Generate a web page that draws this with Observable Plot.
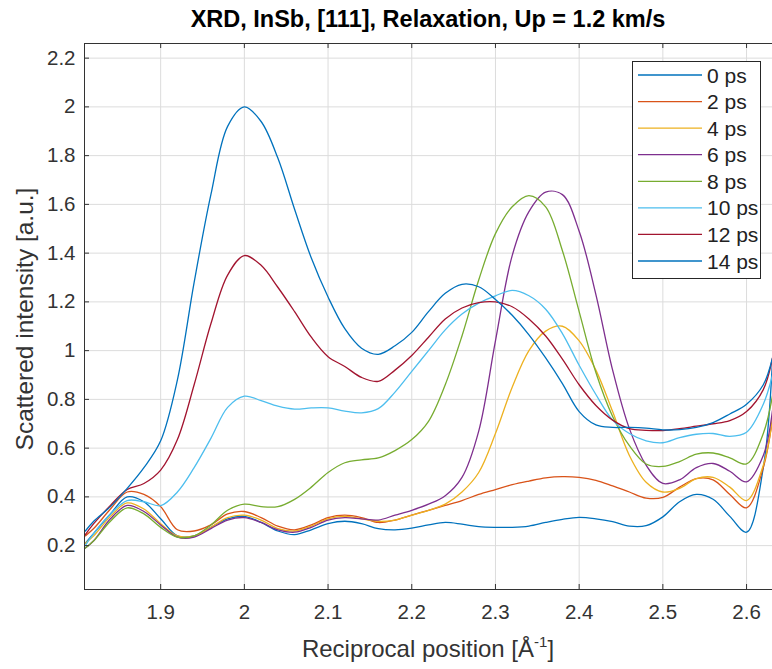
<!DOCTYPE html>
<html><head><meta charset="utf-8">
<script src="https://cdn.jsdelivr.net/npm/d3@7"></script>
<script src="https://cdn.jsdelivr.net/npm/@observablehq/plot@0.6"></script>
<style>
html,body{margin:0;padding:0;background:#fff;}
#chart{width:772px;height:669px;overflow:hidden;}
</style></head>
<body><div id="chart"></div>
<script>
// Reciprocal position (Å^-1)
const xPos = [1.81,1.82,1.84,1.86,1.88,1.90,1.92,1.94,1.96,1.98,2.00,2.02,2.04,2.06,2.08,2.10,2.12,2.14,2.16,2.18,2.20,2.22,2.24,2.26,2.28,2.30,2.32,2.34,2.36,2.38,2.40,2.42,2.44,2.46,2.48,2.50,2.52,2.54,2.56,2.58,2.60,2.62,2.631];
// Scattered intensity per delay
const int0ps  = [0.21,0.25,0.33,0.40,0.38,0.31,0.24,0.24,0.275,0.31,0.32,0.295,0.26,0.245,0.265,0.29,0.30,0.29,0.27,0.265,0.272,0.285,0.295,0.288,0.278,0.275,0.275,0.28,0.295,0.308,0.316,0.31,0.298,0.28,0.282,0.318,0.38,0.41,0.39,0.32,0.255,0.52,0.96];
const int2ps  = [0.24,0.27,0.35,0.42,0.41,0.36,0.265,0.26,0.285,0.33,0.34,0.315,0.28,0.265,0.285,0.315,0.325,0.315,0.295,0.305,0.325,0.345,0.365,0.385,0.41,0.43,0.45,0.465,0.478,0.483,0.48,0.468,0.445,0.42,0.395,0.398,0.44,0.475,0.47,0.41,0.355,0.52,0.72];
const int4ps  = [0.21,0.24,0.32,0.375,0.35,0.29,0.24,0.24,0.275,0.315,0.325,0.305,0.27,0.26,0.28,0.31,0.32,0.31,0.30,0.305,0.325,0.345,0.37,0.42,0.50,0.66,0.85,1.0,1.08,1.10,1.04,0.92,0.75,0.57,0.46,0.42,0.435,0.475,0.48,0.44,0.385,0.53,0.72];
const int6ps  = [0.19,0.22,0.31,0.365,0.34,0.285,0.235,0.235,0.27,0.305,0.315,0.295,0.265,0.255,0.275,0.305,0.315,0.31,0.305,0.325,0.345,0.37,0.405,0.48,0.67,1.04,1.39,1.57,1.65,1.64,1.49,1.23,0.92,0.68,0.53,0.455,0.47,0.52,0.537,0.505,0.462,0.57,0.755];
const int8ps  = [0.19,0.22,0.30,0.355,0.33,0.275,0.235,0.24,0.285,0.345,0.37,0.36,0.36,0.39,0.44,0.50,0.54,0.552,0.56,0.59,0.635,0.71,0.86,1.06,1.29,1.48,1.59,1.636,1.59,1.41,1.16,0.91,0.73,0.61,0.535,0.525,0.545,0.575,0.58,0.56,0.535,0.66,0.815];
const int10ps = [0.20,0.25,0.33,0.385,0.38,0.364,0.42,0.52,0.64,0.767,0.813,0.795,0.772,0.76,0.765,0.765,0.752,0.745,0.762,0.83,0.915,1.0,1.085,1.15,1.195,1.225,1.247,1.225,1.17,1.07,0.94,0.82,0.715,0.66,0.63,0.622,0.643,0.657,0.66,0.648,0.665,0.78,0.90];
const int12ps = [0.245,0.29,0.365,0.43,0.455,0.51,0.635,0.86,1.11,1.31,1.39,1.35,1.26,1.16,1.055,0.975,0.935,0.89,0.874,0.92,0.98,1.055,1.13,1.175,1.197,1.20,1.18,1.13,1.06,0.965,0.86,0.775,0.715,0.68,0.673,0.672,0.68,0.69,0.70,0.713,0.75,0.84,0.97];
const int14ps = [0.26,0.30,0.36,0.435,0.52,0.63,0.88,1.28,1.64,1.92,2.0,1.94,1.79,1.58,1.38,1.22,1.09,1.01,0.985,1.02,1.075,1.16,1.235,1.272,1.262,1.21,1.145,1.065,0.97,0.865,0.75,0.695,0.685,0.685,0.682,0.675,0.676,0.685,0.705,0.74,0.78,0.86,0.97];

const seriesLabels = ["0 ps","2 ps","4 ps","6 ps","8 ps","10 ps","12 ps","14 ps"];
const seriesColors = ["#0072BD","#D95319","#EDB120","#7E2F8E","#77AC30","#4DBEEE","#A2142F","#0072BD"];
const xTicks = [1.9,2,2.1,2.2,2.3,2.4,2.5,2.6];
const yTicks = [0.2,0.4,0.6,0.8,1,1.2,1.4,1.6,1.8,2,2.2];
const xLimits = [1.809, 2.631];
const yLimits = [0.02, 2.26];
const titleText = "XRD, InSb, [111], Relaxation, Up = 1.2 km/s";
const xLabelMain = "Reciprocal position [Å";
const xLabelSup = "-1";
const xLabelEnd = "]";
const yLabelText = "Scattered intensity [a.u.]";

const seriesValues = [int0ps,int2ps,int4ps,int6ps,int8ps,int10ps,int12ps,int14ps];
const rows = seriesValues.flatMap((vals,i)=>vals.map((v,j)=>({x:xPos[j], y:v, series:seriesLabels[i]})));

const W=772, H=669, mL=84, mR=0, mT=43, mB=80;
const pw=W-mL-mR, ph=H-mT-mB;
const axisCol="#333333";

const chart = Plot.plot({
  width:W, height:H, marginLeft:mL, marginRight:mR, marginTop:mT, marginBottom:mB,
  style:{fontFamily:"'Liberation Sans', Arial, Helvetica, sans-serif", fontSize:"20px", color:axisCol, background:"#fff"},
  x:{domain:xLimits},
  y:{domain:yLimits},
  color:{domain:seriesLabels, range:seriesColors},
  marks:[
    Plot.gridX(xTicks,{stroke:"#dcdcdc", strokeOpacity:1}),
    Plot.gridY(yTicks,{stroke:"#dcdcdc", strokeOpacity:1}),
    Plot.line(rows,{x:"x", y:"y", z:"series", stroke:"series", strokeWidth:1.3, curve:"catmull-rom"}),
    Plot.ruleX([xLimits[0]],{stroke:axisCol}),
    Plot.ruleY(yLimits,{stroke:axisCol}),
    Plot.tickX(xTicks,{x:d=>d, insetTop:ph-5, stroke:axisCol}),
    Plot.tickX(xTicks,{x:d=>d, insetBottom:ph-5, stroke:axisCol}),
    Plot.tickY(yTicks,{y:d=>d, insetRight:pw-5, stroke:axisCol}),
    Plot.axisX(xTicks,{tickSize:0, tickPadding:15, fontSize:20.5, label:null, tickFormat:d=>String(d)}),
    Plot.axisY(yTicks,{tickSize:0, tickPadding:9, fontSize:20.5, label:null, tickFormat:d=>String(d)})
  ]
});
document.getElementById("chart").appendChild(chart);

const svg = d3.select(chart);
svg.append("text").attr("x", mL+pw/2).attr("y", 27).attr("text-anchor","middle")
  .attr("font-weight","bold").attr("font-size",23.5).attr("fill","#000").text(titleText);
const xl = svg.append("text").attr("x", mL+pw/2).attr("y", 657).attr("text-anchor","middle")
  .attr("font-size",24).attr("fill",axisCol);
xl.append("tspan").text(xLabelMain);
xl.append("tspan").attr("dy",-10).attr("font-size",15).text(xLabelSup);
xl.append("tspan").attr("dy",10).text(xLabelEnd);
svg.append("text").attr("transform",`translate(33,${mT+ph/2+3}) rotate(-90)`).attr("text-anchor","middle")
  .attr("font-size",24.5).attr("fill",axisCol).text(yLabelText);

const lg = svg.append("g");
lg.append("rect").attr("x",632.5).attr("y",61.5).attr("width",128).attr("height",217)
  .attr("fill","#fff").attr("stroke","#262626");
seriesLabels.forEach((lab,i)=>{
  const cy = 75 + i*26.57;
  lg.append("line").attr("x1",638).attr("x2",702).attr("y1",cy).attr("y2",cy)
    .attr("stroke",seriesColors[i]).attr("stroke-width",1.3);
  lg.append("text").attr("x",707).attr("y",cy).attr("dy","0.36em").attr("font-size",21)
    .attr("text-anchor","start").attr("fill","#222").text(lab);
});
</script>
</body></html>
